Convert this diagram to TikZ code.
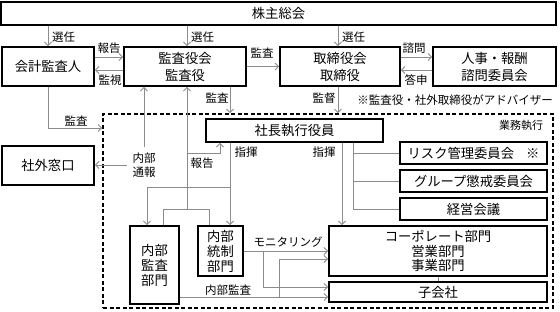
\documentclass[tikz,border=0pt]{standalone}
\usepackage{fontspec}
\setmainfont{Noto Sans CJK JP}
\usetikzlibrary{arrows.meta,calc}
\definecolor{linegray}{RGB}{140,140,140}
\begin{document}
\begin{tikzpicture}[x=1pt,y=-1pt,
  box/.style={draw=black,line width=1.8pt,inner sep=0pt,align=center,
    font=\fontsize{13.3}{17}\selectfont},
  conn/.style={draw=linegray,line width=0.9pt},
  arr/.style={conn,-{Straight Barb[length=3.5pt,width=7pt]}},
  lbl/.style={font=\fontsize{11.5}{13.5}\selectfont,inner sep=1pt,align=center}]
\fill[white] (0,0) rectangle (560,312);
\useasboundingbox (0,0) rectangle (560,312);
% helper columns / rows
\coordinate (cA) at (187,0);
\coordinate (cB) at (230,0);
\coordinate (cC) at (338,0);
\coordinate (cD) at (342,0);
\coordinate (cE) at (353,0);
\coordinate (cG) at (220,0);
\coordinate (cH) at (147,0);
\coordinate (cI) at (163,0);
\coordinate (cJ) at (209,0);
\coordinate (cK) at (263,0);
\coordinate (cL) at (279,0);
\coordinate (r57) at (0,57);
\coordinate (r70) at (0,70);
\coordinate (r128) at (0,128);
\coordinate (r153) at (0,153);
\coordinate (r187) at (0,187);
\coordinate (r209) at (0,209);
\coordinate (r259) at (0,259);
\coordinate (r287) at (0,287);
\coordinate (r297) at (0,297);
% dashed area
\node[draw=black,line width=1.6pt,dash pattern=on 4pt off 2.5pt,inner sep=0pt,
  minimum width=450pt,minimum height=194pt] (gyomu) at (328,211) {};
% boxes
\node[box,minimum width=555pt,minimum height=23pt] (kabu) at (278.5,13.5) {株主総会};
\node[box,minimum width=92pt,minimum height=39pt] (kaikei) at (48,66.5) {会計監査人};
\node[box,minimum width=122pt,minimum height=39pt] (kansa) at (185,66.5) {監査役会\\監査役};
\node[box,minimum width=120pt,minimum height=39pt] (tori) at (340,66.5) {取締役会\\取締役};
\node[box,minimum width=123pt,minimum height=39pt] (jinji) at (494.5,66.5) {人事・報酬\\諮問委員会};
\node[box,minimum width=177pt,minimum height=23pt] (shacho) at (294.5,130.5) {社長執行役員};
\node[box,minimum width=147pt,minimum height=22pt] (risk) at (473.5,153) {リスク管理委員会\hspace{12pt}※};
\node[box,minimum width=147pt,minimum height=22pt] (group) at (473.5,181) {グループ懲戒委員会};
\node[box,minimum width=147pt,minimum height=22pt] (keiei) at (473.5,209) {経営会議};
\node[box,minimum width=218pt,minimum height=50pt,font=\fontsize{13.3}{14.5}\selectfont] (corp) at (438,251) {コーポレート部門\\営業部門\\事業部門};
\node[box,minimum width=218pt,minimum height=20pt] (kogaisha) at (438,292) {子会社};
\node[box,minimum width=92pt,minimum height=39pt] (shagai) at (48,165.5) {社外窓口};
\node[box,minimum width=49pt,minimum height=78pt,font=\fontsize{13.3}{15}\selectfont] (naibukansa) at (154.5,265) {内部\\監査\\部門};
\node[box,minimum width=45pt,minimum height=50pt,font=\fontsize{13.3}{15}\selectfont] (naibutousei) at (220.5,251) {内部\\統制\\部門};
% labels
\node[lbl,anchor=west] (s1) at (51,37.5) {選任};
\node[lbl,anchor=west] (s2) at (190,37.5) {選任};
\node[lbl,anchor=west] (s3) at (341,37.5) {選任};
\node[lbl] (lhokoku1) at (109,48) {報告};
\node[lbl] (lkanshi) at (110,80) {監視};
\node[lbl] (lkansa1) at (262,53) {監査};
\node[lbl] (lshimon) at (414,48) {諮問};
\node[lbl] (ltoshin) at (416,80) {答申};
\node[lbl] (lkansa2) at (76,121) {監査};
\node[lbl] (lkansa3) at (217,98) {監査};
\node[lbl] (lkantoku) at (324,98) {監督};
\node[lbl] (note) at (455,100) {※監査役・社外取締役がアドバイザー};
\node[lbl,font=\fontsize{11}{13}\selectfont] (lgyomu) at (521,125) {業務執行};
\node[lbl,outer sep=5pt] (naibutsuho) at (144,165) {内部\\通報};
\node[lbl] (lhokoku2) at (202,163) {報告};
\node[lbl] (lshiki1) at (246,152) {指揮};
\node[lbl] (lshiki2) at (324,152) {指揮};
\node[lbl] (lmonitor) at (288,242) {モニタリング};
\node[lbl] (lnaibu) at (228,290) {内部監査};
% connectors: top part
\draw[arr] (kabu.south -| kaikei.north) -- (kaikei.north);
\draw[arr] (kabu.south -| cA) -- (kansa.north -| cA);
\draw[arr] (kabu.south -| cC) -- (tori.north -| cC);
\draw[arr] (kaikei.east |- r57) -- (kansa.west |- r57);
\draw[arr] (kansa.west |- r70) -- (kaikei.east |- r70);
\draw[arr] (kansa.east) -- (tori.west);
\draw[arr] (tori.east |- r57) -- (jinji.west |- r57);
\draw[arr] (jinji.west |- r70) -- (tori.east |- r70);
\draw[arr] (kaikei.south) |- (gyomu.west |- r128);
\draw[arr] (kansa.south -| cB) -- (gyomu.north -| cB);
\draw[arr] (tori.south -| cC) -- (gyomu.north -| cC);
% whistleblowing
\draw[arr] (naibutsuho.north) -- (kansa.south -| naibutsuho.north);
\draw[arr] (naibutsuho.west) -- (shagai.east |- naibutsuho.west);
% reports from internal departments
\draw[conn] (naibukansa.north -| cI) -- (cI |- r209) -- (cJ |- r209) -- (naibutousei.north -| cJ);
\draw[arr] (cA |- r209) -- (kansa.south -| cA);
\draw[arr] (cA |- r153) -| (shacho.south -| cG);
% command
\draw[arr] (shacho.south -| cB) -- (naibutousei.north -| cB);
\draw[arr] (cB |- r187) -| (naibukansa.north -| cH);
\draw[arr] (shacho.south -| cD) -- (corp.north -| cD);
\draw[conn] (shacho.south -| cE) |- (keiei.west);
\draw[conn] (cE |- risk.west) -- (risk.west);
\draw[conn] (cE |- group.west) -- (group.west);
\draw[conn] (corp.south) -- (kogaisha.north);
% monitoring
\draw[arr] (naibutousei.east) -- (corp.west);
\draw[arr] (cK |- naibutousei.east) |- (kogaisha.west |- r287);
% internal audit
\draw[arr] (naibukansa.east |- r297) -- (kogaisha.west |- r297);
\draw[arr] (cL |- r297) |- (corp.west |- r259);
\end{tikzpicture}
\end{document}
